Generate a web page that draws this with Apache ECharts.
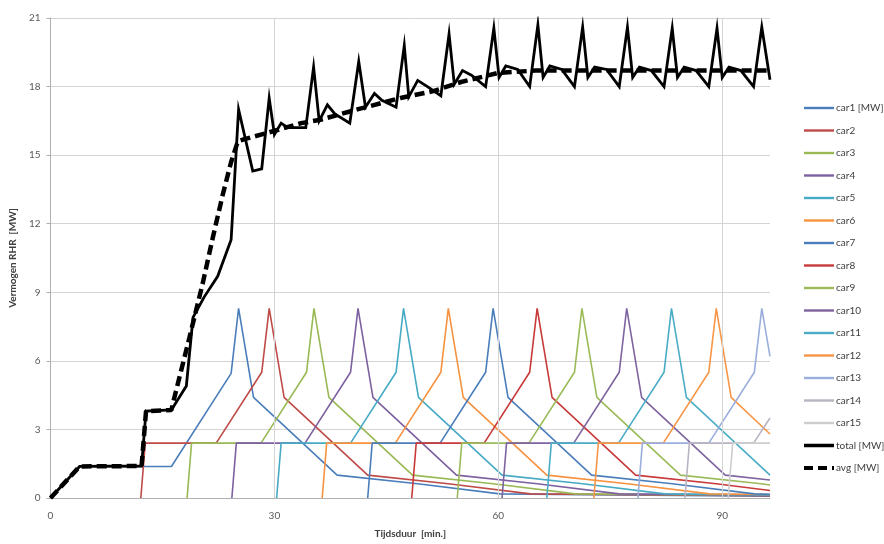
<!DOCTYPE html>
<html>
<head>
<meta charset="utf-8">
<script src="https://cdn.jsdelivr.net/npm/echarts@6/dist/echarts.min.js"></script>
<style>
html, body { margin: 0; padding: 0; background: #fff; }
#chart { width: 884px; height: 544px; }
</style>
</head>
<body>
<div id="chart"></div>
<script>
// [tijd (min.), vermogen (MW)]
var car1 = [[0, 0], [3.9, 1.38], [16.2, 1.38], [24.2, 5.45], [25.2, 8.3], [27.2, 4.4], [38.4, 1.0], [49.2, 0.62], [60.2, 0.18], [96.4, 0.08]];
var car2 = [[12.1, 0], [12.7, 2.4], [22.2, 2.4], [28.3, 5.5], [29.3, 8.3], [31.3, 4.4], [42.5, 1.0], [53.3, 0.62], [64.3, 0.18], [96.4, 0.1]];
var car3 = [[18.3, 0], [18.9, 2.4], [28.2, 2.4], [34.3, 5.5], [35.3, 8.3], [37.3, 4.4], [48.5, 1.0], [59.3, 0.62], [70.3, 0.18], [96.4, 0.12]];
var car4 = [[24.3, 0], [24.9, 2.4], [34.1, 2.4], [40.2, 5.5], [41.2, 8.3], [43.2, 4.4], [54.4, 1.0], [65.2, 0.62], [76.2, 0.18], [96.4, 0.12]];
var car5 = [[30.3, 0], [30.9, 2.4], [40.2, 2.4], [46.3, 5.5], [47.3, 8.3], [49.3, 4.4], [60.5, 1.0], [71.3, 0.62], [82.3, 0.18], [96.4, 0.13]];
var car6 = [[36.4, 0], [37.0, 2.4], [46.2, 2.4], [52.3, 5.5], [53.3, 8.3], [55.3, 4.4], [66.5, 1.0], [77.3, 0.62], [88.3, 0.18], [96.4, 0.15]];
var car7 = [[42.5, 0], [43.1, 2.4], [52.2, 2.4], [58.3, 5.5], [59.3, 8.3], [61.3, 4.4], [72.5, 1.0], [83.3, 0.62], [94.3, 0.18], [96.4, 0.16]];
var car8 = [[48.4, 0], [49.0, 2.4], [58.1, 2.4], [64.2, 5.5], [65.2, 8.3], [67.2, 4.4], [78.4, 1.0], [89.2, 0.62], [96.4, 0.33]];
var car9 = [[54.5, 0], [55.1, 2.4], [64.1, 2.4], [70.2, 5.5], [71.2, 8.3], [73.2, 4.4], [84.4, 1.0], [95.2, 0.62], [96.4, 0.57]];
var car10 = [[60.5, 0], [61.1, 2.4], [70.1, 2.4], [76.2, 5.5], [77.2, 8.3], [79.2, 4.4], [90.4, 1.0], [96.4, 0.79]];
var car11 = [[66.5, 0], [67.1, 2.4], [76.1, 2.4], [82.2, 5.5], [83.2, 8.3], [85.2, 4.4], [96.4, 1.0]];
var car12 = [[72.8, 0], [73.4, 2.4], [82.1, 2.4], [88.2, 5.5], [89.2, 8.3], [91.2, 4.4], [96.4, 2.8]];
var car13 = [[78.7, 0], [79.3, 2.4], [88.2, 2.4], [94.3, 5.5], [95.3, 8.3], [96.4, 6.2]];
var car14 = [[85.0, 0], [85.6, 2.4], [94.2, 2.4], [96.4, 3.5]];
var car15 = [[90.8, 0], [91.4, 2.4], [96.4, 2.4]];

var total = [
  [0, 0], [3.9, 1.38], [12.2, 1.4], [12.8, 3.8], [16.2, 3.85], [18.2, 4.9], [19.1, 7.9],
  [20.6, 8.8], [22.4, 9.7], [24.2, 11.3], [25.2, 17.0], [27.1, 14.3], [28.3, 14.4],
  [29.3, 17.5], [30.0, 15.9], [30.9, 16.4], [31.8, 16.2], [34.2, 16.2], [35.25, 18.85],
  [36.0, 16.5], [37.1, 17.2], [38.1, 16.8], [40.1, 16.4], [41.3, 19.1], [42.2, 17.1],
  [43.4, 17.7], [44.4, 17.4], [46.3, 17.1], [47.4, 19.8], [48.0, 17.55], [49.2, 18.27],
  [50.5, 18.0], [52.3, 17.6], [53.4, 20.3], [54.1, 18.1], [55.2, 18.7], [56.4, 18.5],
  [58.3, 18.0], [59.4, 20.55], [60.1, 18.4], [61.0, 18.9], [62.6, 18.75], [64.2, 18.0],
  [65.3, 20.7], [66.0, 18.4], [66.9, 18.9], [68.5, 18.75], [70.2, 18.0], [71.3, 20.6],
  [72.0, 18.4], [72.9, 18.85], [74.5, 18.75], [76.2, 18.0], [77.3, 20.6], [78.0, 18.4],
  [78.9, 18.85], [80.5, 18.7], [82.2, 18.0], [83.3, 20.55], [84.0, 18.4], [84.9, 18.85],
  [86.5, 18.7], [88.2, 18.0], [89.3, 20.55], [90.0, 18.4], [90.9, 18.85], [92.5, 18.7],
  [94.2, 18.0], [95.3, 20.6], [96.4, 18.3]
];
var avg = [
  [0, 0], [3.9, 1.38], [12.2, 1.4], [12.8, 3.8], [16.2, 3.85], [16.6, 4.4], [18.6, 7.0],
  [20.4, 9.4], [21.75, 11.4], [23.1, 13.3], [24.2, 14.7], [25.1, 15.6], [26.0, 15.7],
  [28.2, 15.9], [30.4, 16.1], [33.6, 16.4], [36.2, 16.55], [41.1, 17.0], [46.9, 17.5],
  [51.3, 17.8], [55.0, 18.2], [60.0, 18.6], [65.0, 18.7], [96.4, 18.7]
];

var carNames = ['car1 [MW]', 'car2', 'car3', 'car4', 'car5', 'car6', 'car7', 'car8',
  'car9', 'car10', 'car11', 'car12', 'car13', 'car14', 'car15'];
var carData = [car1, car2, car3, car4, car5, car6, car7, car8, car9, car10, car11, car12, car13, car14, car15];
var carColors = ['#4a7ebb', '#be4b48', '#98b954', '#7d60a0', '#46aac5', '#f69240', '#4a7ebb',
  '#c83a3a', '#9bbb59', '#7e649e', '#4bacc6', '#f79646', '#9aaedd', '#b9b3c2', '#cdcdcd'];
var vGrid = [30, 60, 90];

var series = carData.map(function (d, i) {
  return {
    name: carNames[i],
    type: 'line',
    data: d,
    symbol: 'none',
    z: 3,
    color: carColors[i],
    lineStyle: { width: 1.6, color: carColors[i] }
  };
});
series.push({
  name: 'total [MW]', type: 'line', data: total, symbol: 'none', z: 5, color: '#000',
  lineStyle: { width: 2.8, color: '#000', join: 'miter' }
});
series.push({
  name: 'avg [MW]', type: 'line', data: avg, symbol: 'none', z: 6, color: '#000',
  lineStyle: { width: 4.5, color: '#000', type: [10, 5] }
});
// verticale rasterlijnen
series.push({
  type: 'line', data: [], symbol: 'none', z: 1, silent: true,
  markLine: {
    silent: true, symbol: 'none', label: { show: false },
    lineStyle: { color: '#d4d4d4', width: 1, type: 'solid' },
    data: vGrid.map(function (t) { return { xAxis: t }; })
  }
});

var legendData = carNames.map(function (n) {
  return { name: n, lineStyle: { width: 2.4 } };
});
legendData.push({ name: 'total [MW]', lineStyle: { width: 3.5 } });
legendData.push({ name: 'avg [MW]', lineStyle: { width: 4, type: [9, 5] } });

var chart = echarts.init(document.getElementById('chart'));
chart.setOption({
  animation: false,
  textStyle: { fontFamily: 'Lato' },
  grid: { left: 49, right: 114, top: 18, bottom: 42 },
  legend: {
    orient: 'vertical',
    left: 797,
    top: 97,
    itemWidth: 30,
    itemHeight: 12,
    itemGap: 10.5,
    itemStyle: { opacity: 0, borderWidth: 0 },
    data: legendData,
    textStyle: { fontSize: 10, color: '#404040', lineHeight: 12, padding: [0, 0, 0, -3] }
  },
  xAxis: {
    type: 'value',
    min: 0,
    max: 96.4,
    interval: 30,
    name: 'Tijdsduur  [min.]',
    nameLocation: 'middle',
    nameGap: 31,
    nameTextStyle: { fontSize: 10, fontWeight: 'bold', color: '#404040' },
    axisLine: { lineStyle: { color: '#b0b0b0' } },
    axisTick: { show: false },
    axisLabel: { fontSize: 10, color: '#595959', margin: 13, showMaxLabel: false },
    splitLine: { show: false }
  },
  yAxis: {
    type: 'value',
    min: 0,
    max: 21,
    interval: 3,
    name: 'Vermogen RHR  [MW]',
    nameLocation: 'middle',
    nameGap: 30,
    nameTextStyle: { fontSize: 10, fontWeight: 'bold', color: '#404040' },
    axisLine: { show: true, lineStyle: { color: '#b0b0b0' } },
    axisTick: { show: true, length: 4, lineStyle: { color: '#b0b0b0' } },
    axisLabel: { fontSize: 10, color: '#595959', margin: 10 },
    splitLine: { lineStyle: { color: '#d4d4d4', width: 1 } }
  },
  series: series
});
</script>
</body>
</html>
